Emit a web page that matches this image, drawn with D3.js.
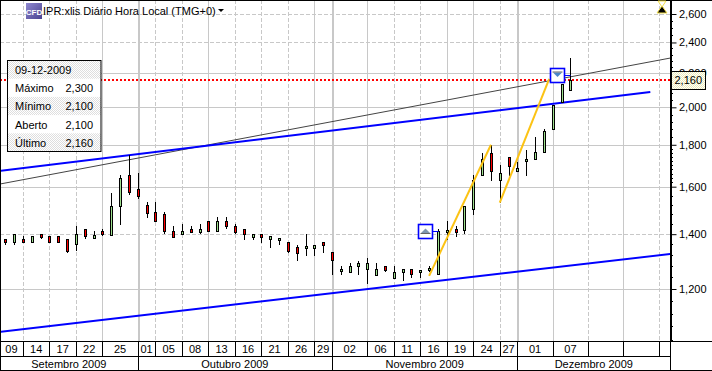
<!DOCTYPE html>
<html>
<head>
<meta charset="utf-8">
<script src="https://cdn.jsdelivr.net/npm/d3@7"></script>
<style>
  html, body { margin: 0; padding: 0; background: #fff; }
  text { font-family: "Liberation Sans", Arial, sans-serif; }
</style>
</head>
<body>
<div id="chart"></div>
<script>
// candles, one entry per session
var opens  = [1380,1367,1380,1367,1400,1392,1392,1380,1360,1420,1387,1412,1400,1517,1654,1590,1520,1488,1480,1412,1400,1420,1410,1452,1410,1452,1432,1420,1390,1400,1380,1375,1369,1349,1344,1348,1369,1330,1264,1259,1278,1267,1250,1280,1239,1260,1269,1257,1264,1250,1407,1420,1420,1505,1653,1757,1628,1741,1672,1717,1729,1763,1881,2030,2100];
var highs  = [1380,1400,1393,1392,1400,1392,1392,1380,1433,1420,1412,1420,1571,1654,1750,1665,1531,1531,1488,1433,1441,1433,1441,1452,1469,1469,1441,1420,1400,1400,1392,1384,1369,1359,1400,1359,1369,1330,1281,1290,1300,1308,1290,1280,1280,1269,1269,1265,1281,1420,1452,1433,1517,1654,1757,1800,1700,1741,1717,1774,1839,1882,2014,2135,2300];
var lows   = [1359,1359,1367,1367,1380,1367,1367,1328,1336,1380,1387,1392,1400,1437,1564,1546,1467,1450,1400,1390,1400,1410,1400,1410,1410,1420,1400,1379,1379,1367,1348,1359,1328,1300,1317,1317,1328,1249,1249,1259,1249,1217,1250,1259,1239,1228,1239,1239,1259,1250,1378,1390,1400,1478,1653,1628,1530,1650,1670,1650,1729,1763,1881,2030,2100];
var closes = [1367,1400,1367,1392,1390,1367,1367,1336,1400,1392,1397,1400,1517,1639,1578,1560,1488,1450,1410,1390,1412,1410,1420,1410,1452,1430,1410,1400,1400,1390,1392,1384,1336,1328,1353,1359,1359,1300,1270,1280,1290,1290,1270,1267,1260,1269,1250,1265,1272,1412,1416,1410,1517,1631,1729,1669,1662,1698,1685,1729,1763,1870,2014,2135,2160];

var priceTicks = [2600,2400,2200,2000,1800,1600,1400,1200];
var dashedPrices = [2600,2400,1400];
var minorPrices = [2550,2500,2450,2360,2320,2280,2240,2160,2120,2080,2040,1960,1920,1880,1840,1780,1760,1740,1720,1700,1680,1660,1640,1620,1560,1520,1480,1440,1360,1320,1280,1240,1160,1120,1080,1040];

var dateTicks  = [2,5,8,11,15,17,20,23,26,29,32,35,37,41,44,47,50,53,56,58,62,66,70,74];
var dateLabels = ["09","14","17","22","25","01","05","08","13","16","21","26","29","02","06","11","16","19","24","27","01","07","","",""];
var dashedDates = [2,5,8,17,20,26,29,32,44,47,56,66,74];
var monthStarts = [15,37,58];
var monthLabels = ["Setembro 2009","Outubro 2009","Novembro 2009","Dezembro 2009"];

var blueUpper = [[-0.6,1673],[73.05,2088]];
var blueLower = [[-0.6,1064],[75.3,1324]];
var greyTrend = [[-0.6,1612],[75.3,2297]];
var zigzagUp1 = [[48,1245],[55,1800]];
var zigzagUp2 = [[56,1530],[61.6,2166]];

var lastDate = "09-12-2009";
var infoRows = [["Máximo","2,300"],["Mínimo","2,100"],["Aberto","2,100"],["Último","2,160"]];
var lastPrice = 2160;

var width = 712, height = 371;
var plotW = 670, plotH = 341, dateH = 356;

var svg = d3.select("#chart").append("svg")
  .attr("width", width)
  .attr("height", height)
  .style("display", "block");

var x = d3.scaleLinear().domain([0, 64]).range([5.3, 570.4]);
var y = d3.scaleLog().domain([1200, 2600]).range([289, 14]);
var fmt = d3.format(",");
var px = function(v) { return Math.round(v) + 0.5; };

// dotted fill used by the info box and the price flag
var defs = svg.append("defs");
function dotted(id, colour) {
  var p = defs.append("pattern").attr("id", id).attr("width", 2).attr("height", 2).attr("patternUnits", "userSpaceOnUse");
  p.append("rect").attr("width", 2).attr("height", 2).attr("fill", "#fff");
  p.append("rect").attr("width", 1).attr("height", 1).attr("fill", colour);
  p.append("rect").attr("x", 1).attr("y", 1).attr("width", 1).attr("height", 1).attr("fill", colour);
}
dotted("dots", "#dedede");
dotted("dotsY", "#ecebb8");
defs.append("clipPath").attr("id", "plotClip").append("rect").attr("x", 1).attr("y", 1).attr("width", plotW - 1).attr("height", plotH - 1);
var iconGrad = defs.append("linearGradient").attr("id", "iconGrad").attr("x1", 0).attr("y1", 0).attr("x2", 1).attr("y2", 1);
iconGrad.append("stop").attr("offset", "0%").attr("stop-color", "#8f88d0");
iconGrad.append("stop").attr("offset", "100%").attr("stop-color", "#4a4390");

// grid
var plot = svg.append("g").attr("clip-path", "url(#plotClip)");

plot.selectAll(".hgrid").data(priceTicks).enter().append("line")
  .attr("x1", 0).attr("x2", plotW)
  .attr("y1", function(d) { return px(y(d)); })
  .attr("y2", function(d) { return px(y(d)); })
  .attr("stroke", "#c8c8c8")
  .attr("stroke-dasharray", function(d) { return dashedPrices.indexOf(d) >= 0 ? "4,2" : null; });

plot.selectAll(".vgrid").data(dateTicks).enter().append("line")
  .attr("x1", function(d) { return px(x(d)); })
  .attr("x2", function(d) { return px(x(d)); })
  .attr("y1", 0).attr("y2", plotH)
  .attr("stroke", "#c8c8c8")
  .attr("stroke-dasharray", function(d) { return dashedDates.indexOf(d) >= 0 ? "4,2" : null; });

// month boundaries are a bit heavier
plot.selectAll(".mgrid").data(monthStarts).enter().append("line")
  .attr("x1", function(d) { return px(x(d)) + 0.5; })
  .attr("x2", function(d) { return px(x(d)) + 0.5; })
  .attr("y1", 0).attr("y2", plotH)
  .attr("stroke", "#c8c8c8").attr("stroke-width", 2);

var line = d3.line()
  .x(function(d) { return x(d[0]); })
  .y(function(d) { return y(d[1]); });

plot.append("path").datum(greyTrend).attr("d", line)
  .attr("fill", "none").attr("stroke", "#444").attr("stroke-width", 1);

// last price
plot.append("line")
  .attr("x1", 0).attr("x2", plotW)
  .attr("y1", Math.round(y(lastPrice))).attr("y2", Math.round(y(lastPrice)))
  .attr("stroke", "#f00").attr("stroke-width", 2).attr("stroke-dasharray", "2,2");

plot.append("path").datum(blueUpper).attr("d", line)
  .attr("fill", "none").attr("stroke", "#00f").attr("stroke-width", 2);
plot.append("path").datum(blueLower).attr("d", line)
  .attr("fill", "none").attr("stroke", "#00f").attr("stroke-width", 2);

// candles
var candles = plot.selectAll(".candle").data(opens).enter().append("g");

candles.append("line")
  .attr("x1", function(d, i) { return px(x(i)); })
  .attr("x2", function(d, i) { return px(x(i)); })
  .attr("y1", function(d, i) { return Math.round(y(highs[i])); })
  .attr("y2", function(d, i) { return Math.round(y(lows[i])); })
  .attr("stroke", "#000");

candles.append("rect")
  .attr("x", function(d, i) { return px(x(i)) - 1; })
  .attr("width", 2)
  .attr("y", function(d, i) { return px(y(Math.max(d, closes[i]))); })
  .attr("height", function(d, i) { return Math.max(2, Math.round(Math.abs(y(d) - y(closes[i])))); })
  .attr("fill", function(d, i) { return closes[i] >= d ? "#9fe08f" : "#f00"; })
  .attr("stroke", "#000");

plot.selectAll(".zigzag").data([zigzagUp1, zigzagUp2]).enter().append("path")
  .attr("d", line).attr("fill", "none").attr("stroke", "#fcc314").attr("stroke-width", 2);

// signal markers sit on the sessions they belong to
function marker(i, price, boxX, up) {
  var g = plot.append("g");
  var cx = boxX + 7.5, cy = px(y(price));
  g.append("line").attr("x1", boxX + 15).attr("x2", px(x(i))).attr("y1", cy).attr("y2", cy).attr("stroke", "#00f");
  g.append("rect").attr("x", boxX + 0.5).attr("y", cy - 7).attr("width", 14).attr("height", 14)
    .attr("fill", "#fff").attr("stroke", "#00f").attr("stroke-width", 1.6);
  var tri = up
    ? [[cx - 4.5, cy + 1.5], [cx + 4.5, cy + 1.5], [cx, cy - 3]]
    : [[cx - 4.5, cy - 3], [cx + 4.5, cy - 3], [cx, cy + 1.5]];
  g.append("path").attr("d", d3.line()(tri)).attr("fill", up ? "#7f96ae" : "#4a86c8");
  g.append("line").attr("x1", cx - 5).attr("x2", cx + 5)
    .attr("y1", up ? cy + 2 : cy - 3.5).attr("y2", up ? cy + 2 : cy - 3.5).attr("stroke", "#666");
}
marker(49, 1412, 418, true);
marker(64, 2190, 550, false);

// axis frame, there is no line down the right edge
svg.append("line").attr("x1", 0.5).attr("x2", 0.5).attr("y1", 0).attr("y2", height).attr("stroke", "#000");
svg.append("line").attr("x1", 0).attr("x2", width).attr("y1", 0.5).attr("y2", 0.5).attr("stroke", "#000");
svg.append("line").attr("x1", 0).attr("x2", width).attr("y1", height - 0.5).attr("y2", height - 0.5).attr("stroke", "#000");
svg.append("line").attr("x1", 0).attr("x2", width).attr("y1", plotH + 0.5).attr("y2", plotH + 0.5).attr("stroke", "#000");
svg.append("line").attr("x1", 0).attr("x2", plotW + 0.5).attr("y1", dateH + 0.5).attr("y2", dateH + 0.5).attr("stroke", "#000");
svg.append("line").attr("x1", plotW + 0.5).attr("x2", plotW + 0.5).attr("y1", plotH).attr("y2", height).attr("stroke", "#000");
svg.append("line").attr("x1", plotW + 1).attr("x2", plotW + 1).attr("y1", 0).attr("y2", plotH).attr("stroke", "#000").attr("stroke-width", 2);

// price axis from d3, restyled
var yAxis = svg.append("g").attr("transform", "translate(" + (plotW + 0.5) + ",0)")
  .call(d3.axisRight(y).tickValues(priceTicks).tickFormat(fmt).tickSize(6).tickPadding(2.5));
yAxis.select(".domain").remove();
yAxis.selectAll("text").attr("font-size", 11).attr("fill", "#000").attr("font-family", "Liberation Sans");
yAxis.selectAll("line").attr("stroke", "#000");
svg.selectAll(".minor").data(minorPrices).enter().append("line")
  .attr("x1", plotW).attr("x2", plotW + 3)
  .attr("y1", function(d) { return px(y(d)); })
  .attr("y2", function(d) { return px(y(d)); })
  .attr("stroke", "#000");

// date row
var edges = [-0.6].concat(dateTicks, [75.3]);
svg.selectAll(".dsep").data(dateTicks).enter().append("line")
  .attr("x1", function(d) { return px(x(d)); })
  .attr("x2", function(d) { return px(x(d)); })
  .attr("y1", plotH).attr("y2", dateH)
  .attr("stroke", "#000");
svg.selectAll(".dlab").data(dateLabels).enter().append("text")
  .attr("x", function(d, i) { return (x(edges[i]) + x(edges[i + 1])) / 2; })
  .attr("y", 353)
  .attr("text-anchor", "middle")
  .attr("font-size", 11)
  .text(function(d) { return d; });

// month row
var monthEdges = [-0.6].concat(monthStarts, [75.3]);
svg.selectAll(".msep").data(monthStarts).enter().append("line")
  .attr("x1", function(d) { return px(x(d)); })
  .attr("x2", function(d) { return px(x(d)); })
  .attr("y1", dateH).attr("y2", height)
  .attr("stroke", "#000");
svg.selectAll(".mlab").data(monthLabels).enter().append("text")
  .attr("x", function(d, i) { return (x(monthEdges[i]) + x(monthEdges[i + 1])) / 2; })
  .attr("y", 368)
  .attr("text-anchor", "middle")
  .attr("font-size", 11)
  .text(function(d) { return d; });

// title
var icon = svg.append("g").attr("transform", "translate(26,3)");
icon.append("rect").attr("width", 16).attr("height", 16).attr("fill", "url(#iconGrad)");
icon.append("text").attr("x", 8).attr("y", 12).attr("text-anchor", "middle")
  .attr("font-size", 8).attr("font-weight", "bold").attr("fill", "#fff").text("CFD");
svg.append("text").attr("x", 43).attr("y", 14.5).attr("font-size", 11)
  .text("IPR:xlis Diário Hora Local (TMG+0)");
svg.append("path").attr("d", "M218,9L224,9L221,12Z").attr("fill", "#000");

// hourglass at top right
var glass = svg.append("g").attr("transform", "translate(662,0)");
glass.append("path").attr("d", "M-4,1L4,1L0,7Z").attr("fill", "#fff").attr("stroke", "#f4e04a");
glass.append("path").attr("d", "M0,6L5,13L-5,13Z").attr("fill", "#000").attr("stroke", "#f4e04a");

// info box
var rowH = 18.2, boxX = 7.5, boxY = 60.5, boxW = 93.5;
var info = svg.append("g");
info.append("rect").attr("x", boxX).attr("y", boxY).attr("width", boxW).attr("height", rowH * 5)
  .attr("fill", "#fff");
info.selectAll(".band").data([0, 2, 4]).enter().append("rect")
  .attr("x", boxX).attr("width", boxW)
  .attr("y", function(d) { return boxY + d * rowH; })
  .attr("height", rowH)
  .attr("fill", "url(#dots)");
info.append("rect").attr("x", boxX).attr("y", boxY).attr("width", boxW).attr("height", rowH * 5)
  .attr("fill", "none").attr("stroke", "#000");
info.append("text").attr("x", 15).attr("y", boxY + 13.5).attr("font-size", 11).text(lastDate);
infoRows.forEach(function(r, i) {
  var ty = boxY + rowH * (i + 1) + 13.5;
  info.append("text").attr("x", 15).attr("y", ty).attr("font-size", 11).text(r[0]);
  info.append("text").attr("x", 93).attr("y", ty).attr("text-anchor", "end").attr("font-size", 11).text(r[1]);
});

// last price flag
var flag = svg.append("g");
flag.append("rect").attr("x", plotW + 1.5).attr("y", 71.5).attr("width", 34).attr("height", 18)
  .attr("fill", "url(#dotsY)").attr("stroke", "#000");
flag.append("text").attr("x", plotW + 4.5).attr("y", 84).attr("font-size", 11).text(fmt(lastPrice));
</script>
</body>
</html>
